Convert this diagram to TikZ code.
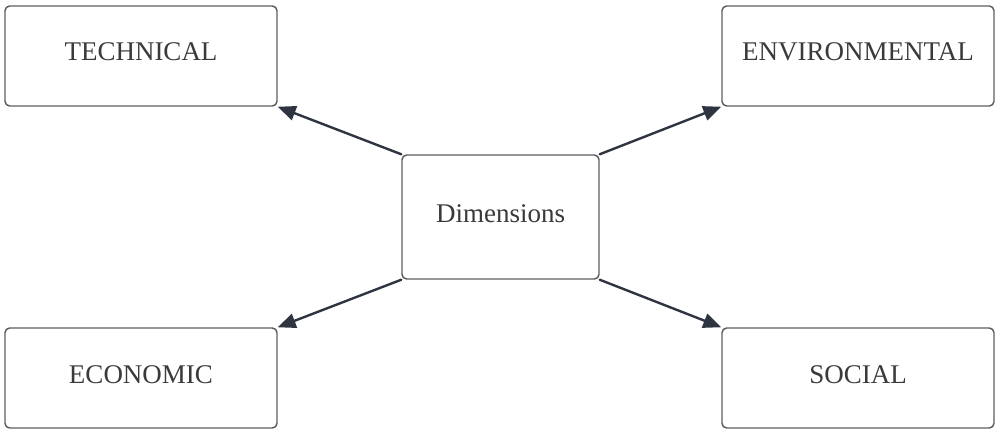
\documentclass[tikz,border=0pt]{standalone}
\usepackage{fontspec}
\setmainfont{Liberation Serif}
\usetikzlibrary{arrows.meta}
\definecolor{boxline}{HTML}{5E5E5E}
\definecolor{arrowcol}{HTML}{2E3440}
\definecolor{txtcol}{HTML}{3A3A3A}
\begin{document}
\begin{tikzpicture}[x=0.75pt, y=0.75pt, line join=round, line cap=round,
	dim/.style={draw=boxline, line width=1.1pt, rounded corners=3.5pt, fill=white,
		text=txtcol, font=\fontsize{20.25pt}{24pt}\selectfont,
		text height=13.5pt, text depth=6pt, inner sep=0pt,
		minimum width=204pt, minimum height=75pt},
	centre/.style={dim, minimum width=147.75pt, minimum height=93pt},
	link/.style={draw=arrowcol, line width=1.8pt, -{Triangle[length=13.5pt, width=11pt]}}]
	% Cadre de l'image
	\useasboundingbox (0,0) rectangle (995,429);
	
	% Les cinq boîtes
	\node[centre] (D) at (500.5,212) {Dimensions};
	\node[dim] (T) at (141,373) {TECHNICAL};
	\node[dim] (E) at (858,373) {ENVIRONMENTAL};
	\node[dim] (C) at (141,51) {ECONOMIC};
	\node[dim] (S) at (858,51) {SOCIAL};
	
	% Les flèches partant des coins
	\draw[link] (D.north west) -- (T.south east);
	\draw[link] (D.north east) -- (E.south west);
	\draw[link] (D.south west) -- (C.north east);
	\draw[link] (D.south east) -- (S.north west);
\end{tikzpicture}
\end{document}
